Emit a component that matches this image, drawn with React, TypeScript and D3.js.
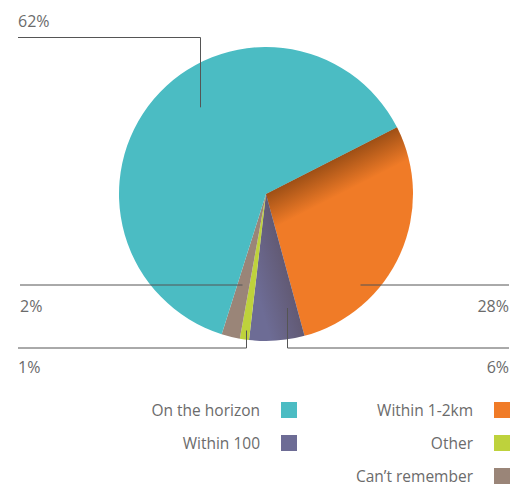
import React from 'react';
import * as d3 from 'd3';

// data, in pie order (clockwise from the orange slice)
const categories = ['Within 1-2km', 'Within 100', 'Other', "Can\u2019t remember", 'On the horizon'];
const values = [28, 6, 1, 2, 62];

// legend columns (by category name)
const legendLeft = ['On the horizon', 'Within 100'];
const legendRight = ['Within 1-2km', 'Other', "Can\u2019t remember"];

const colors = ['#f07b27', '#6d6c95', '#bed23c', '#9a8578', '#4bbcc3'];

const width = 524;
const height = 489;
const cx = 266;
const cy = 194;
const radius = 147;
const startDeg = 63;

// where each leader line touches its slice: fraction of the slice's sweep, radius
const anchors = [
  { f: 0.7, r: 131, elbowY: 285, endX: 509, textY: 312, side: 'right', straight: true },
  { f: 0.21, r: 116, elbowY: 348, endX: 509, textY: 373, side: 'right', straight: false },
  { f: 0.5, r: 138, elbowY: 348, endX: 18, textY: 373, side: 'left', straight: false },
  { f: 0.65, r: 94, elbowY: 285, endX: 20, textY: 312, side: 'left', straight: true },
  { f: 0.555, r: 109, elbowY: 37.5, endX: 18, textY: 27, side: 'left', straight: false },
];

// shading along slice start edges
const shade = [0.45, 0.22, 0, 0, 0];

const font = "'Open Sans', 'Noto Sans', sans-serif";
const textColor = '#6b6b6b';
const lineColor = '#555';

export default function App() {
  const pie = d3
    .pie<number>()
    .sort(null)
    .startAngle((startDeg * Math.PI) / 180)
    .endAngle((startDeg * Math.PI) / 180 + 2 * Math.PI);
  const arcs = pie(values);
  const arc = d3.arc<d3.PieArcDatum<number>>().innerRadius(0).outerRadius(radius);

  const colorOf = d3.scaleOrdinal<string, string>().domain(categories).range(colors);

  const legendRow = d3.scalePoint<number>().domain([0, 1, 2]).range([402, 468]);

  return (
    <svg
      width={width}
      height={height}
      style={{ position: 'absolute', left: 0, top: 0, background: '#fff' }}
      fontFamily={font}
    >
      <defs>
        {arcs.map((a, i) => {
          const ang = a.startAngle;
          return (
            <linearGradient
              key={i}
              id={`shade${i}`}
              gradientUnits="userSpaceOnUse"
              x1={0}
              y1={0}
              x2={34 * Math.cos(ang)}
              y2={34 * Math.sin(ang)}
            >
              <stop offset="0" stopColor="#3a1a00" stopOpacity={shade[i]} />
              <stop offset="1" stopColor="#3a1a00" stopOpacity={0} />
            </linearGradient>
          );
        })}
      </defs>
      <g transform={`translate(${cx},${cy})`}>
        {arcs.map((a, i) => (
          <path key={i} d={arc(a) || ''} fill={colorOf(categories[i])} />
        ))}
        {arcs.map((a, i) =>
          shade[i] > 0 ? (
            <path key={'s' + i} d={arc(a) || ''} fill={`url(#shade${i})`} />
          ) : null
        )}
      </g>
      <g fill="none" stroke={lineColor} strokeWidth={1}>
        {arcs.map((a, i) => {
          const p = anchors[i];
          const ang = a.startAngle + p.f * (a.endAngle - a.startAngle);
          const ax = Math.round(cx + p.r * Math.sin(ang)) + 0.5;
          const ay = cy - p.r * Math.cos(ang);
          const pts: [number, number][] = p.straight
            ? [
                [ax, p.elbowY],
                [p.endX, p.elbowY],
              ]
            : [
                [ax, ay],
                [ax, p.elbowY],
                [p.endX, p.elbowY],
              ];
          return <path key={i} d={d3.line()(pts) || ''} />;
        })}
      </g>
      <g fill={textColor} fontSize={16}>
        {arcs.map((a, i) => {
          const p = anchors[i];
          return (
            <text
              key={i}
              x={p.endX}
              y={p.textY}
              textAnchor={p.side === 'right' ? 'end' : 'start'}
            >
              {`${values[i]}%`}
            </text>
          );
        })}
      </g>
      <g fontSize={15.5} fill={textColor}>
        {legendLeft.map((c, i) => (
          <g key={c} transform={`translate(281,${legendRow(i)})`}>
            <rect width={16} height={16} fill={colorOf(c)} />
            <text x={-21} y={14} textAnchor="end">
              {c}
            </text>
          </g>
        ))}
        {legendRight.map((c, i) => (
          <g key={c} transform={`translate(494,${legendRow(i)})`}>
            <rect width={16} height={16} fill={colorOf(c)} />
            <text x={-21} y={14} textAnchor="end">
              {c}
            </text>
          </g>
        ))}
      </g>
    </svg>
  );
}
